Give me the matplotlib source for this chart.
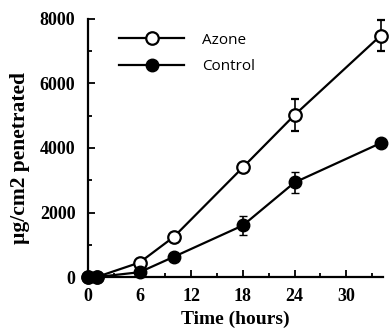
import matplotlib.pyplot as plt
from matplotlib.ticker import MultipleLocator
from matplotlib.lines import Line2D

# time points (hours)
hours = [0, 1, 6, 10, 18, 24, 34]

# penetrated amounts (ug/cm2)
azone = [0, 0, 450, 1250, 3400, 5020, 7480]
azone_err = [0, 0, 0, 0, 100, 500, 480]
control = [0, 0, 150, 630, 1600, 2930, 4150]
control_err = [0, 0, 0, 0, 300, 320, 0]

serif = 'Liberation Serif'
plt.rcParams['font.family'] = serif
plt.rcParams['font.weight'] = 'bold'

fig = plt.figure(figsize=(3.91, 3.31), dpi=100)
ax = fig.add_axes([0.225, 0.163, 0.755, 0.78])

ax.errorbar(hours, azone, yerr=azone_err, color='black', lw=1.6, marker='o',
            ms=9, mfc='white', mec='black', mew=1.6, capsize=3, elinewidth=1.2,
            clip_on=False, zorder=3)
ax.errorbar(hours, control, yerr=control_err, color='black', lw=1.6, marker='o',
            ms=9, mfc='black', mec='black', capsize=3, elinewidth=1.2,
            clip_on=False, zorder=3)

ax.set_xlim(0, 34.3)
ax.set_ylim(0, 8000)
ax.xaxis.set_major_locator(MultipleLocator(6))
ax.xaxis.set_minor_locator(MultipleLocator(3))
ax.yaxis.set_major_locator(MultipleLocator(2000))
ax.yaxis.set_minor_locator(MultipleLocator(1000))
ax.tick_params(which='both', direction='in', width=1.3, labelsize=13)
ax.tick_params(axis='x', which='major', length=5, pad=8)
ax.tick_params(axis='y', which='major', length=5, pad=9)
ax.tick_params(which='minor', length=3)
for side in ['top', 'right']:
    ax.spines[side].set_visible(False)
for side in ['left', 'bottom']:
    ax.spines[side].set_linewidth(1.6)

ax.set_xlabel('Time (hours)', fontweight='bold', fontsize=14, labelpad=4)
ax.set_ylabel('\u00b5g/cm2 penetrated', fontweight='bold', fontsize=15.5)
ax.yaxis.set_label_coords(-0.195, 0.46)

handles = [
    Line2D([], [], color='black', lw=1.6, marker='o', ms=9, mfc='white', mew=1.6),
    Line2D([], [], color='black', lw=1.6, marker='o', ms=9, mfc='black'),
]
ax.legend(handles, ['Azone', 'Control'], loc='upper left', bbox_to_anchor=(0.06, 1.0),
          frameon=False, handlelength=4.2, handletextpad=1.2, labelspacing=0.75,
          prop={'family': 'Open Sans', 'weight': 'normal', 'size': 11})

fig.savefig('out.png', dpi=100)
